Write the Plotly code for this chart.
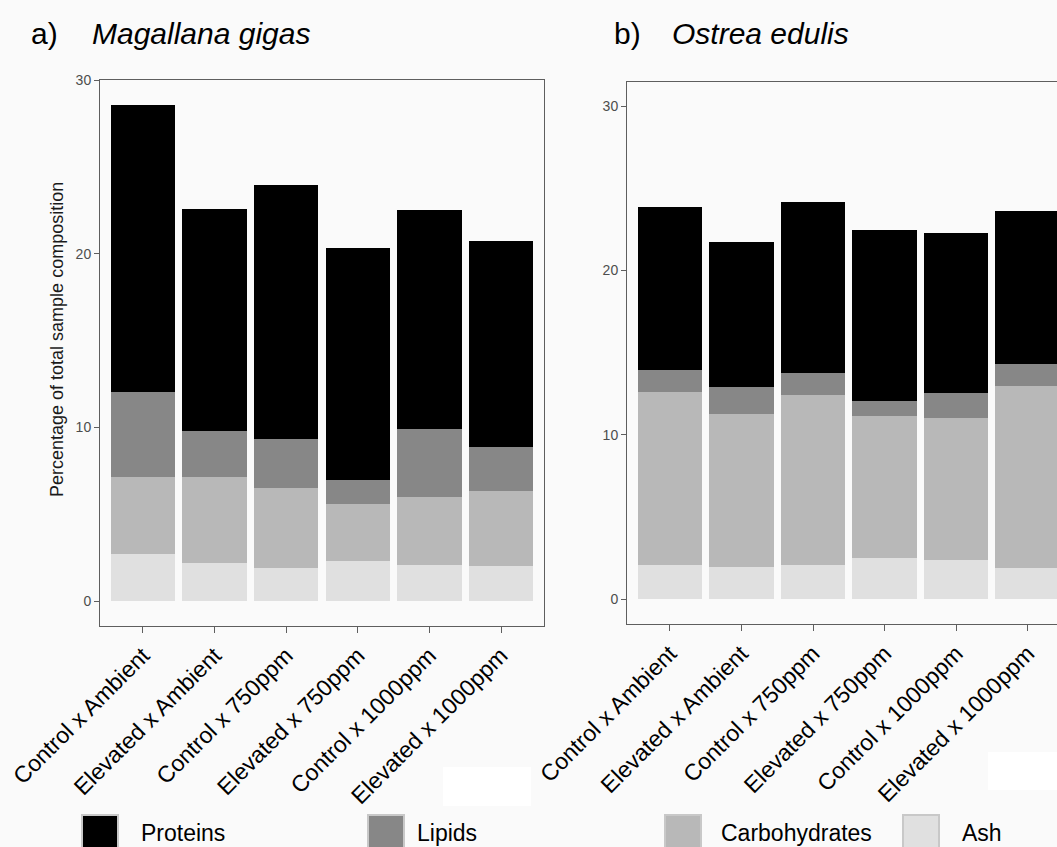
import plotly.graph_objects as go

W, H = 1057, 847

treatments = ["Control x Ambient", "Elevated x Ambient", "Control x 750ppm",
              "Elevated x 750ppm", "Control x 1000ppm", "Elevated x 1000ppm"]

# stacking order, bottom to top
components = ["Ash", "Carbohydrates", "Lipids", "Proteins"]
legend_order = ["Proteins", "Lipids", "Carbohydrates", "Ash"]

# Magallana gigas (% of total sample)
gigas_ash = [2.69, 2.19, 1.89, 2.33, 2.08, 2.04]
gigas_carbohydrates = [4.48, 4.95, 4.61, 3.27, 3.92, 4.29]
gigas_lipids = [4.85, 2.67, 2.85, 1.36, 3.89, 2.57]
gigas_proteins = [16.56, 12.75, 14.61, 13.37, 12.61, 11.86]

# Ostrea edulis (% of total sample)
edulis_ash = [2.09, 1.97, 2.09, 2.49, 2.37, 1.91]
edulis_carbohydrates = [10.53, 9.29, 10.36, 8.68, 8.66, 11.09]
edulis_lipids = [1.32, 1.64, 1.34, 0.90, 1.51, 1.34]
edulis_proteins = [9.92, 8.83, 10.37, 10.41, 9.77, 9.29]

y_ticks = [0, 10, 20, 30]

colors = {"Proteins": "#000000", "Lipids": "#878787",
          "Carbohydrates": "#b8b8b8", "Ash": "#e0e0e0"}

gigas = {"Ash": gigas_ash, "Carbohydrates": gigas_carbohydrates,
         "Lipids": gigas_lipids, "Proteins": gigas_proteins}
edulis = {"Ash": edulis_ash, "Carbohydrates": edulis_carbohydrates,
          "Lipids": edulis_lipids, "Proteins": edulis_proteins}

FONT = "Liberation Sans, Arial, sans-serif"
BG = "#fafafa"
AXIS = "#5e5e5e"


def px_x(p):
    return p / W


def px_y(p):
    return 1 - p / H


fig = go.Figure()
for data, xa, ya in [(gigas, "x", "y"), (edulis, "x2", "y2")]:
    for comp in components:
        fig.add_trace(go.Bar(
            x=treatments, y=data[comp], name=comp,
            marker=dict(color=colors[comp], line=dict(width=0)),
            xaxis=xa, yaxis=ya, showlegend=False,
        ))

xcommon = dict(type="category", categoryorder="array", categoryarray=treatments,
               showline=True, linecolor=AXIS, linewidth=1, ticks="outside",
               ticklen=6, tickcolor=AXIS, tickwidth=1, tickangle=-45,
               tickfont=dict(family=FONT, size=23, color="#000000"),
               showgrid=False, zeroline=False, automargin=False)
ycommon = dict(showline=True, linecolor=AXIS, linewidth=1, ticks="outside",
               ticklen=5, tickcolor=AXIS, tickwidth=1, tickvals=y_ticks,
               tickfont=dict(family=FONT, size=14, color="#4d4d4d"),
               showgrid=False, zeroline=False, automargin=False)

fig.update_layout(
    width=W, height=H, margin=dict(l=0, r=0, t=0, b=0, autoexpand=False),
    paper_bgcolor=BG, plot_bgcolor=BG,
    barmode="stack", bargap=0.1,
    xaxis=dict(xcommon, domain=[px_x(100), px_x(544)], anchor="y",
               range=[-0.6, 5.6], mirror=True),
    yaxis=dict(ycommon, domain=[px_y(626), px_y(80)], anchor="x",
               range=[-1.43, 30.0], mirror=True),
    xaxis2=dict(xcommon, domain=[px_x(627), 1.0], anchor="y2",
                range=[-0.6, 5.41], mirror=True),
    yaxis2=dict(ycommon, domain=[px_y(624), px_y(81.5)], anchor="x2",
                range=[-1.5, 31.5], mirror=False),
)

annotations = []
shapes = []

# panel titles
for label, species, x_lab, x_sp in [("a)", "Magallana gigas", 29, 90),
                                    ("b)", "Ostrea edulis", 612, 670)]:
    annotations.append(dict(text=label, x=px_x(x_lab), y=px_y(33), xref="paper",
                            yref="paper", xanchor="left", yanchor="middle",
                            showarrow=False,
                            font=dict(family=FONT, size=30, color="#000000")))
    annotations.append(dict(text="<i>" + species + "</i>", x=px_x(x_sp), y=px_y(33),
                            xref="paper", yref="paper", xanchor="left",
                            yanchor="middle", showarrow=False,
                            font=dict(family=FONT, size=30, color="#000000")))

# y-axis title
annotations.append(dict(text="Percentage of total sample composition",
                        x=px_x(57), y=px_y(340), xref="paper", yref="paper",
                        xanchor="center", yanchor="middle", textangle=-90,
                        showarrow=False,
                        font=dict(family=FONT, size=18, color="#1a1a1a")))

# legend keys and labels
legend_pos = {"Proteins": (82, 139), "Lipids": (368, 415),
              "Carbohydrates": (665, 719), "Ash": (903, 960)}
for comp in legend_order:
    kx, tx = legend_pos[comp]
    shapes.append(dict(type="rect", xref="paper", yref="paper",
                       x0=px_x(kx), x1=px_x(kx + 36), y0=px_y(852), y1=px_y(815),
                       fillcolor=colors[comp], line=dict(color="#c8c8c8", width=2)))
    annotations.append(dict(text=comp, x=px_x(tx), y=px_y(833), xref="paper",
                            yref="paper", xanchor="left", yanchor="middle",
                            showarrow=False,
                            font=dict(family=FONT, size=23, color="#000000")))

# white patches on the background
for x0, y0, x1, y1 in [(443, 767, 531, 806), (988, 752, 1057, 790)]:
    shapes.append(dict(type="rect", xref="paper", yref="paper",
                       x0=px_x(x0), x1=px_x(x1), y0=px_y(y1), y1=px_y(y0),
                       fillcolor="#ffffff", line=dict(width=0), layer="below"))

fig.update_layout(annotations=annotations, shapes=shapes)

fig.write_html("out.html")
